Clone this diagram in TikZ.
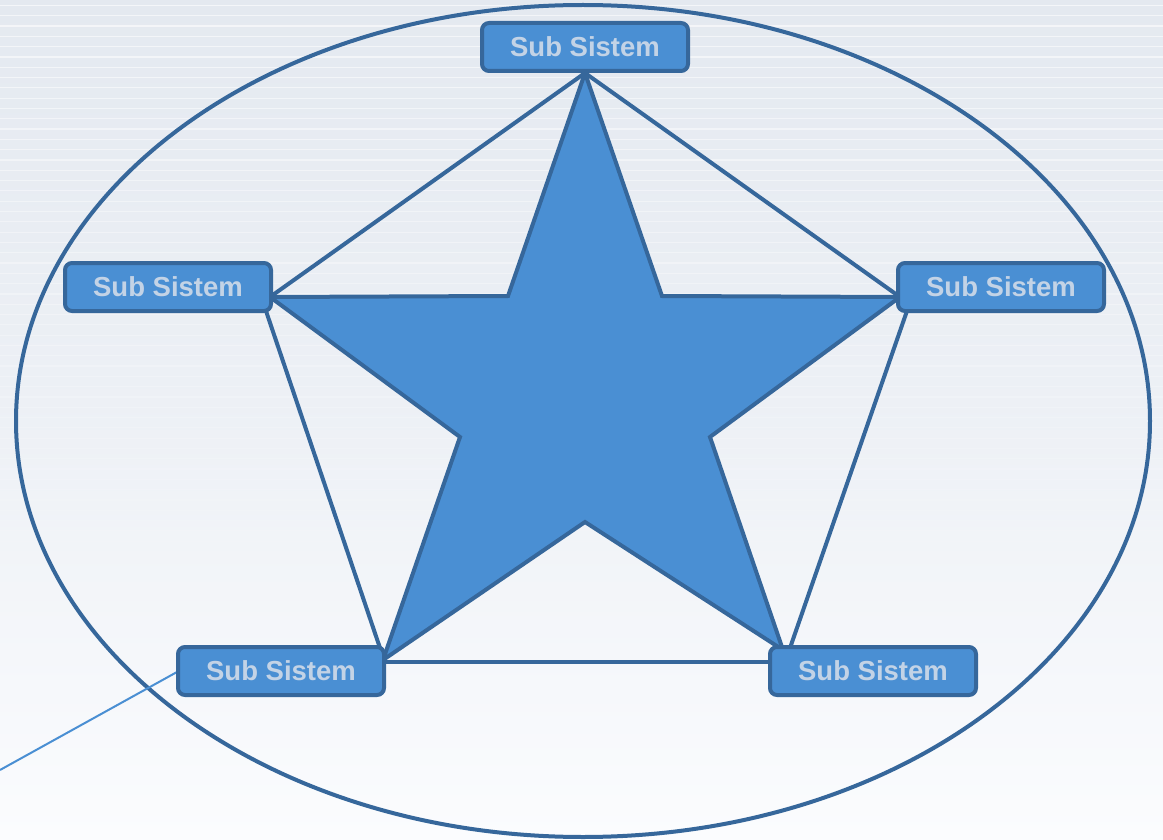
\documentclass[tikz,border=0pt]{standalone}
\usepackage{fontspec}
\setmainfont{Liberation Sans}
\begin{document}
\begin{tikzpicture}[x=1pt,y=-1pt,
  subbox/.style={draw=edgeblue,fill=boxblue,line width=4pt,rounded corners=7pt,
    minimum width=206pt,minimum height=48pt,inner sep=0pt,
    font=\fontsize{27.5}{31}\selectfont\bfseries,text=txtblue},
  link/.style={draw=edgeblue,line width=4pt,line cap=round}]
\definecolor{edgeblue}{HTML}{36679B}
\definecolor{boxblue}{HTML}{4A8FD3}
\definecolor{txtblue}{HTML}{C3D3E6}
\definecolor{bgtop}{HTML}{E4E9F0}
\definecolor{bgbot}{HTML}{FBFCFE}
\definecolor{thinblue}{HTML}{4A8FD3}
\useasboundingbox (0,0) rectangle (1163,840);
\shade[top color=bgtop,bottom color=bgbot,middle color=bgtop!60!bgbot] (0,0) rectangle (1163,840);
\foreach \k in {0,...,60} {
  \pgfmathsetmacro{\op}{max(0,0.6-\k*0.01)}
  \draw[white,line width=1.2pt,opacity=\op] (0,{5.5+\k*10.3}) -- (1163,{5.5+\k*10.3});
}
% ellipse
\draw[edgeblue,line width=4pt] (583,421) ellipse [x radius=567, y radius=416];
% star points
\coordinate (pt) at (585,73);
\coordinate (pl) at (270,297);
\coordinate (pr) at (900,297);
\coordinate (pbl) at (383,660);
\coordinate (pbr) at (783,650);
\coordinate (il) at (508,296);
\coordinate (ir) at (662,296);
\coordinate (iml) at (460,437);
\coordinate (imr) at (710,437);
\coordinate (ib) at (585,522);
\fill[boxblue] (pt) -- (ir) -- (pr) -- (imr) -- (pbr) -- (ib) -- (pbl) -- (iml) -- (pl) -- (il) -- cycle;
\draw[edgeblue,line width=4pt,line join=miter] (pt) -- (ir) -- (pr) -- (imr) -- (pbr) -- (ib) -- (pbl) -- (iml) -- (pl) -- (il) -- cycle;
% pentagon links
\coordinate (ll) at (265,308);
\coordinate (lb) at (380,648);
\coordinate (rl) at (908,308);
\coordinate (rb) at (790,648);
\coordinate (bl) at (385,662);
\coordinate (br) at (772,662);
\draw[link] (pt) -- (pl);
\draw[link] (pt) -- (pr);
\draw[link] (ll) -- (lb);
\draw[link] (rl) -- (rb);
\draw[link] (bl) -- (br);
% thin line
\coordinate (tend) at (0,770);
\coordinate (tstart) at (177,672);
\draw[thinblue,line width=2pt] (tend) -- (tstart);
% boxes
\node[subbox] (top) at (585,47) {Sub Sistem};
\node[subbox] (left) at (168,287) {Sub Sistem};
\node[subbox] (right) at (1001,287) {Sub Sistem};
\node[subbox] (bleft) at (281,671) {Sub Sistem};
\node[subbox] (bright) at (873,671) {Sub Sistem};
\end{tikzpicture}
\end{document}
